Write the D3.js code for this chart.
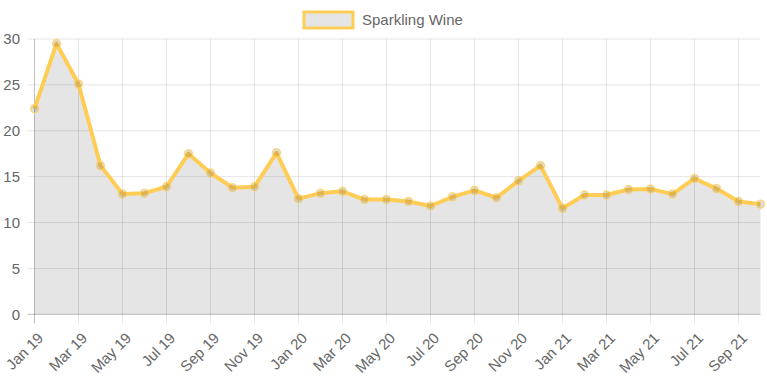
<!DOCTYPE html>
<html><head><meta charset="utf-8">
<script src="https://cdn.jsdelivr.net/npm/d3@7"></script>
<style>body{margin:0;background:#fff}svg{display:block}text{font-family:"Liberation Sans",Arial,sans-serif;fill:#666}</style>
</head><body><svg id="c" width="767" height="383"></svg>
<script>
const months = ["Jan 19","Feb 19","Mar 19","Apr 19","May 19","Jun 19","Jul 19","Aug 19","Sep 19","Oct 19","Nov 19","Dec 19",
"Jan 20","Feb 20","Mar 20","Apr 20","May 20","Jun 20","Jul 20","Aug 20","Sep 20","Oct 20","Nov 20","Dec 20",
"Jan 21","Feb 21","Mar 21","Apr 21","May 21","Jun 21","Jul 21","Aug 21","Sep 21","Oct 21"];
const sparkling = [22.4,29.5,25.1,16.2,13.1,13.2,13.9,17.5,15.4,13.8,13.9,17.6,
12.6,13.2,13.4,12.5,12.5,12.3,11.8,12.8,13.5,12.7,14.55,16.2,
11.55,13.0,13.0,13.6,13.65,13.1,14.8,13.7,12.3,12.0];
const yTicks = [0,5,10,15,20,25,30];
const seriesName = "Sparkling Wine";

(function(){
const svg = d3.select("#c");
const mLeft = 34.5, mRight = 760.5, mTop = 39, mBottom = 314.3;
const x = d3.scalePoint().domain(months).range([mLeft, mRight]);
const y = d3.scaleLinear().domain([0,30]).range([mBottom, mTop]);
const grid = "rgba(0,0,0,0.1)";
const shown = months.filter((m,i)=>i%2===0);

svg.append("g").selectAll("line").data(yTicks).join("line")
  .attr("x1", mLeft-7).attr("x2", mRight).attr("y1", d=>y(d)).attr("y2", d=>y(d))
  .attr("stroke", d=>d===0?"rgba(0,0,0,0.25)":grid).attr("stroke-width",1);
svg.append("g").selectAll("line").data(shown).join("line")
  .attr("x1", d=>x(d)).attr("x2", d=>x(d)).attr("y1", mTop).attr("y2", mBottom+9)
  .attr("stroke", d=>d===months[0]?"rgba(0,0,0,0.25)":grid).attr("stroke-width",1);

const area = d3.area().x((d,i)=>x(months[i])).y0(y(0)).y1(d=>y(d));
svg.append("path").datum(sparkling).attr("d", area).attr("fill","rgba(0,0,0,0.1)");
const line = d3.line().x((d,i)=>x(months[i])).y(d=>y(d));
svg.append("path").datum(sparkling).attr("d", line).attr("fill","none")
  .attr("stroke","rgb(255,205,86)").attr("stroke-width",4).attr("stroke-linejoin","round");
svg.append("g").selectAll("circle").data(sparkling).join("circle")
  .attr("cx",(d,i)=>x(months[i])).attr("cy",d=>y(d)).attr("r",4)
  .attr("fill","rgba(0,0,0,0.12)").attr("stroke","rgba(255,205,86,0.7)").attr("stroke-width",1.5);

svg.append("g").selectAll("text").data(yTicks).join("text")
  .attr("x", 20).attr("y", d=>y(d)).attr("dy","0.35em").attr("text-anchor","end")
  .attr("font-size",15).text(d=>d);
svg.append("g").selectAll("text").data(shown).join("text")
  .attr("transform", d=>`translate(${x(d)+6},${mBottom+21}) rotate(-45)`)
  .attr("dy","0.35em").attr("text-anchor","end").attr("font-size",15).text(d=>d);

svg.append("rect").attr("x",304).attr("y",12).attr("width",49).attr("height",16)
  .attr("fill","rgba(0,0,0,0.1)").attr("stroke","rgb(255,205,86)").attr("stroke-width",3);
svg.append("text").attr("x",362).attr("y",20).attr("dy","0.35em").attr("font-size",15).text(seriesName);
})();
</script></body></html>
